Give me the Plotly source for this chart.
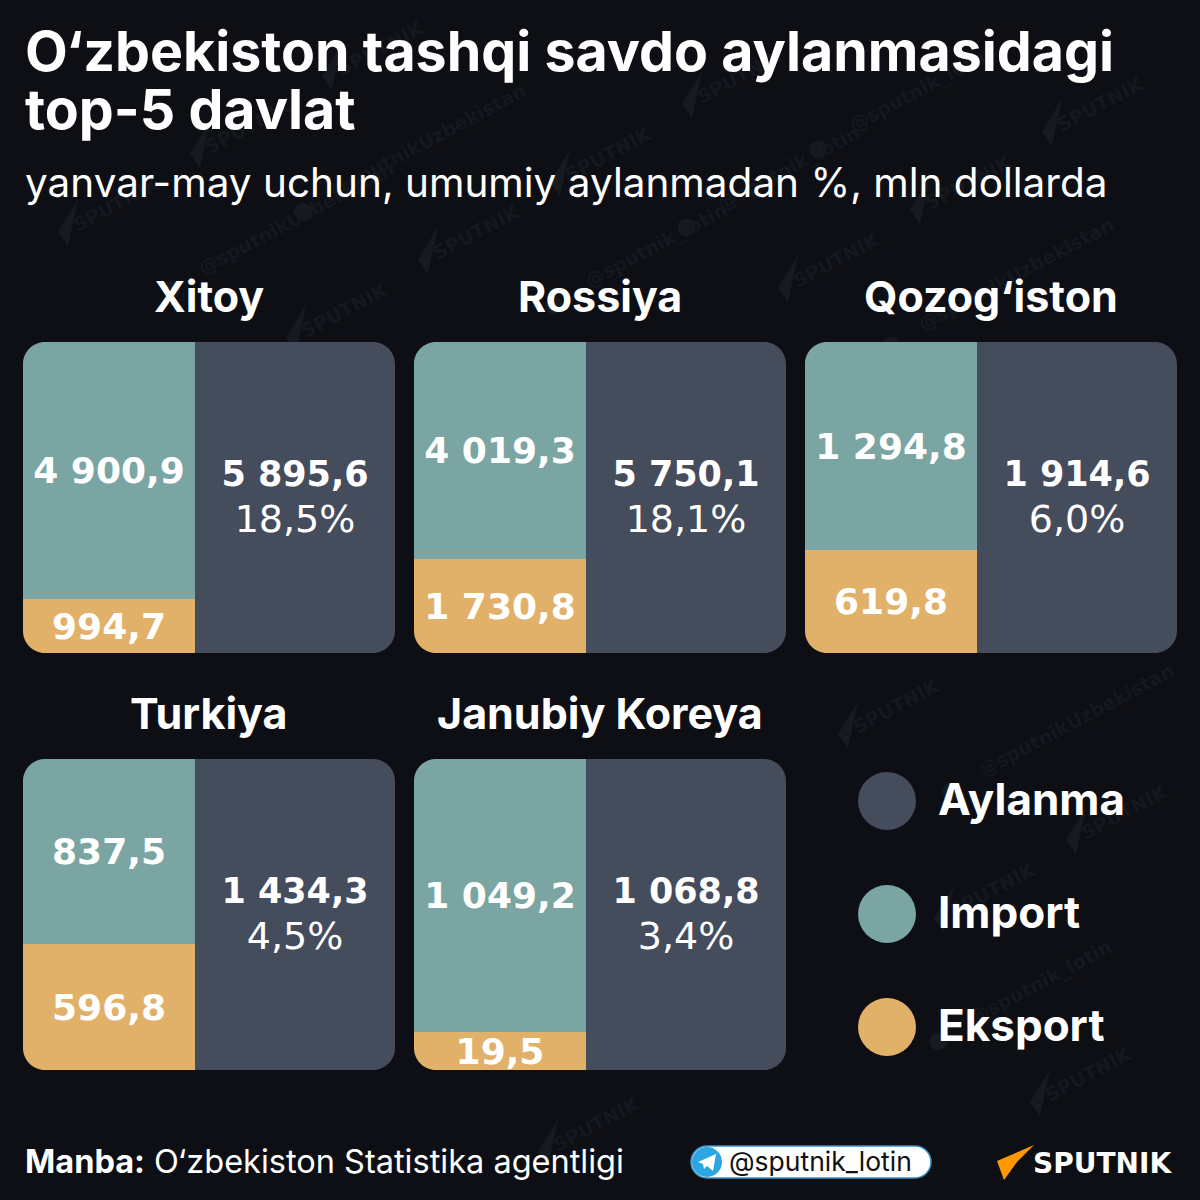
import math

import plotly.graph_objects as go

countries = ["Xitoy", "Rossiya", "Qozog‘iston", "Turkiya", "Janubiy Koreya"]
import_values = [4900.9, 4019.3, 1294.8, 837.5, 1049.2]
export_values = [994.7, 1730.8, 619.8, 596.8, 19.5]
turnover_values = [5895.6, 5750.1, 1914.6, 1434.3, 1068.8]
turnover_shares = [18.5, 18.1, 6.0, 4.5, 3.4]

# how tall the export band is drawn, % of the card
# (the Korea band is much taller than 19,5 would give, same as the original)
export_drawn = [17.4, 30.2, 33.1, 40.5, 12.2]
import_drawn = [82.6, 69.8, 66.9, 59.5, 87.8]
turnover_drawn = [100, 100, 100, 100, 100]

legend_labels = ["Aylanma", "Import", "Eksport"]

BG = "#0d0f14"
TURNOVER = "#454c5c"
IMPORT = "#7aa5a3"
EXPORT = "#e1b16a"
WHITE = "#ffffff"
WM_TEXT = "#15181e"
WM_MARK = "#171a21"

SIZE = 1200
HEAD_FONT = "Inter"
NUM_FONT = "DejaVu Sans"

# card left / top edges in pixels
CARD_X = [23, 414, 805, 23, 414]
CARD_Y = [342, 342, 342, 759, 759]
CARD_W, CARD_H = 372, 311
LEFT_W = 172
RADIUS = 22
LEGEND_Y = [801, 914, 1027]


def px(x):
    return x / SIZE


def py(y):
    return 1 - y / SIZE


def fmt(v):
    return f"{v:,.1f}".replace(",", " ").replace(".", ",")


def text(x, y, s, size, weight=400, anchor="left", color=WHITE, font=HEAD_FONT, angle=0):
    return dict(
        x=px(x), y=py(y), xref="paper", yref="paper", text=s, showarrow=False,
        xanchor=anchor, yanchor="middle", textangle=angle,
        font=dict(family=font, size=size, color=color, weight=weight),
    )


def poly(points, color, layer="above"):
    path = "M " + " L ".join(f"{px(x):.5f},{py(y):.5f}" for x, y in points) + " Z"
    return dict(type="path", path=path, xref="paper", yref="paper",
                fillcolor=color, line=dict(width=0), layer=layer)


def circle(cx, cy, r, color, layer="above"):
    return dict(type="circle", xref="paper", yref="paper",
                x0=px(cx - r), x1=px(cx + r), y0=py(cy + r), y1=py(cy - r),
                fillcolor=color, line=dict(width=0), layer=layer)


def corner_mask(cx, cy, sx, sy):
    # little background wedge that rounds one corner of a card
    k = RADIUS * 0.448
    ax, ay = cx + sx * RADIUS, cy
    bx, by = cx, cy + sy * RADIUS
    path = (
        f"M {px(cx):.5f},{py(cy):.5f} L {px(ax):.5f},{py(ay):.5f} "
        f"C {px(ax - sx * (RADIUS - k)):.5f},{py(ay):.5f} "
        f"{px(bx):.5f},{py(by - sy * (RADIUS - k)):.5f} {px(bx):.5f},{py(by):.5f} Z"
    )
    return dict(type="path", path=path, xref="paper", yref="paper",
                fillcolor=BG, line=dict(width=0), layer="above")


def pill(x0, x1, y0, y1, fill, border):
    r = (y1 - y0) / 2
    k = r * 0.552
    path = (
        f"M {px(x0 + r):.5f},{py(y0):.5f} L {px(x1 - r):.5f},{py(y0):.5f} "
        f"C {px(x1 - r + k):.5f},{py(y0):.5f} {px(x1):.5f},{py(y0 + r - k):.5f} {px(x1):.5f},{py(y0 + r):.5f} "
        f"C {px(x1):.5f},{py(y0 + r + k):.5f} {px(x1 - r + k):.5f},{py(y1):.5f} {px(x1 - r):.5f},{py(y1):.5f} "
        f"L {px(x0 + r):.5f},{py(y1):.5f} "
        f"C {px(x0 + r - k):.5f},{py(y1):.5f} {px(x0):.5f},{py(y0 + r + k):.5f} {px(x0):.5f},{py(y0 + r):.5f} "
        f"C {px(x0):.5f},{py(y0 + r - k):.5f} {px(x0 + r - k):.5f},{py(y0):.5f} {px(x0 + r):.5f},{py(y0):.5f} Z"
    )
    return dict(type="path", path=path, xref="paper", yref="paper",
                fillcolor=fill, line=dict(color=border, width=1.5), layer="above")


fig = go.Figure()
shapes = []
annotations = []

# things the watermark text must not run over (annotations sit on top of them)
keep_clear = [(x, y, x + CARD_W, y + CARD_H) for x, y in zip(CARD_X, CARD_Y)]
keep_clear += [(858, ly - 29, 916, ly + 29) for ly in LEGEND_Y]
keep_clear += [(688, 1143, 934, 1181), (994, 1143, 1178, 1182)]

wm_words = ["SPUTNIK", "@sputnik_lotin", "SPUTNIK", "@sputnikUzbekistan"]
angle = math.radians(28)
for row in range(-2, 17):
    for col in range(-2, 9):
        wx = col * 180 + row * 48 + 20
        wy = row * 92 + col * 14 + 20
        word = wm_words[(row + col) % 4]
        half = len(word) * 6.6
        hw = half * math.cos(angle) + 6
        hh = half * math.sin(angle) + 10
        if wx - hw < 0 or wx + hw > SIZE or wy - hh < 0 or wy + hh > SIZE:
            continue
        if any(wx + hw > a and wx - hw < c and wy + hh > b and wy - hh < d for a, b, c, d in keep_clear):
            continue
        annotations.append(text(wx, wy, word, 19, 700, "center", WM_TEXT, "DejaVu Sans", -28))
        if word == "SPUTNIK":
            shapes.append(poly([(wx - 58, wy + 28), (wx - 38, wy - 5), (wx - 48, wy + 42)], WM_MARK, "below"))
        else:
            shapes.append(circle(wx - hw - 14, wy + hh + 6, 9, WM_MARK, "below"))

for i, country in enumerate(countries):
    n = "" if i == 0 else str(i + 1)
    x0, y0 = CARD_X[i], CARD_Y[i]
    fig.update_layout({
        f"xaxis{n}": dict(domain=[px(x0), px(x0 + CARD_W)], range=[0, CARD_W], visible=False, fixedrange=True),
        f"yaxis{n}": dict(domain=[py(y0 + CARD_H), py(y0)], range=[0, 100], visible=False, fixedrange=True),
    })
    axes = dict(xaxis=f"x{n}", yaxis=f"y{n}")
    left_x, left_w = LEFT_W / 2, LEFT_W
    right_w = CARD_W - LEFT_W
    right_x = LEFT_W + right_w / 2
    bar_text = dict(textposition="inside", insidetextanchor="middle", textangle=0,
                    constraintext="none", cliponaxis=False, showlegend=False)
    fig.add_trace(go.Bar(
        x=[left_x], y=[export_drawn[i]], width=[left_w], marker=dict(color=EXPORT, line=dict(width=0)),
        text=[fmt(export_values[i])], name="Eksport",
        textfont=dict(family=NUM_FONT, size=36, color=WHITE, weight=700), **bar_text, **axes,
    ))
    fig.add_trace(go.Bar(
        x=[left_x], y=[import_drawn[i]], width=[left_w], marker=dict(color=IMPORT, line=dict(width=0)),
        text=[fmt(import_values[i])], name="Import",
        textfont=dict(family=NUM_FONT, size=36, color=WHITE, weight=700), **bar_text, **axes,
    ))
    share = f"{turnover_shares[i]:.1f}%".replace(".", ",")
    fig.add_trace(go.Bar(
        x=[right_x], y=[turnover_drawn[i]], width=[right_w], marker=dict(color=TURNOVER, line=dict(width=0)),
        text=[f"<b>{fmt(turnover_values[i])}</b><br><span style='font-size:38px'>{share}</span>"], name="Aylanma",
        textfont=dict(family=NUM_FONT, size=35, color=WHITE), **bar_text, **axes,
    ))
    annotations.append(text(x0 + CARD_W / 2, y0 - 46, country, 43, 700, "center"))
    for sx, cx in ((1, x0), (-1, x0 + CARD_W)):
        for sy, cy in ((1, y0), (-1, y0 + CARD_H)):
            shapes.append(corner_mask(cx, cy, sx, sy))

annotations.append(text(23, 51, "O‘zbekiston tashqi savdo aylanmasidagi", 55.5, 700))
annotations.append(text(23, 109, "top-5 davlat", 55.5, 700))
annotations.append(text(23, 183, "yanvar-may uchun, umumiy aylanmadan %, mln dollarda", 40.5, 400))

legend_colors = [TURNOVER, IMPORT, EXPORT]
for label, color, ly in zip(legend_labels, legend_colors, LEGEND_Y):
    shapes.append(circle(887, ly, 29, color))
    annotations.append(text(936, ly - 2, label, 44, 700))

annotations.append(text(23, 1161, "<b>Manba:</b> O‘zbekiston Statistika agentligi", 32.5, 400))

# telegram badge
shapes.append(pill(691, 931, 1146, 1178, WHITE, "#3b8fc4"))
shapes.append(circle(707, 1162, 15, "#2ca5e0"))
shapes.append(poly([(698, 1162), (716, 1154), (713, 1171), (707, 1166), (704, 1169), (703, 1164)], WHITE))
annotations.append(text(727, 1161, "@sputnik_lotin", 26.5, 400, "left", "#111111"))

# sputnik logo
shapes.append(poly([(1034, 1145), (997, 1161), (1004, 1180), (1017, 1162)], "#ff9800"))
annotations.append(text(1031, 1163, "SPUTNIK", 28, 700, "left", WHITE, "DejaVu Sans"))

fig.update_layout(
    width=SIZE, height=SIZE, margin=dict(l=0, r=0, t=0, b=0),
    paper_bgcolor=BG, plot_bgcolor="rgba(0,0,0,0)",
    barmode="stack", bargap=0, showlegend=False,
    shapes=shapes, annotations=annotations,
)

fig.write_html("out.html", config={"displayModeBar": False},
               post_script="document.body.style.margin='0';document.body.style.background='#0d0f14';")
